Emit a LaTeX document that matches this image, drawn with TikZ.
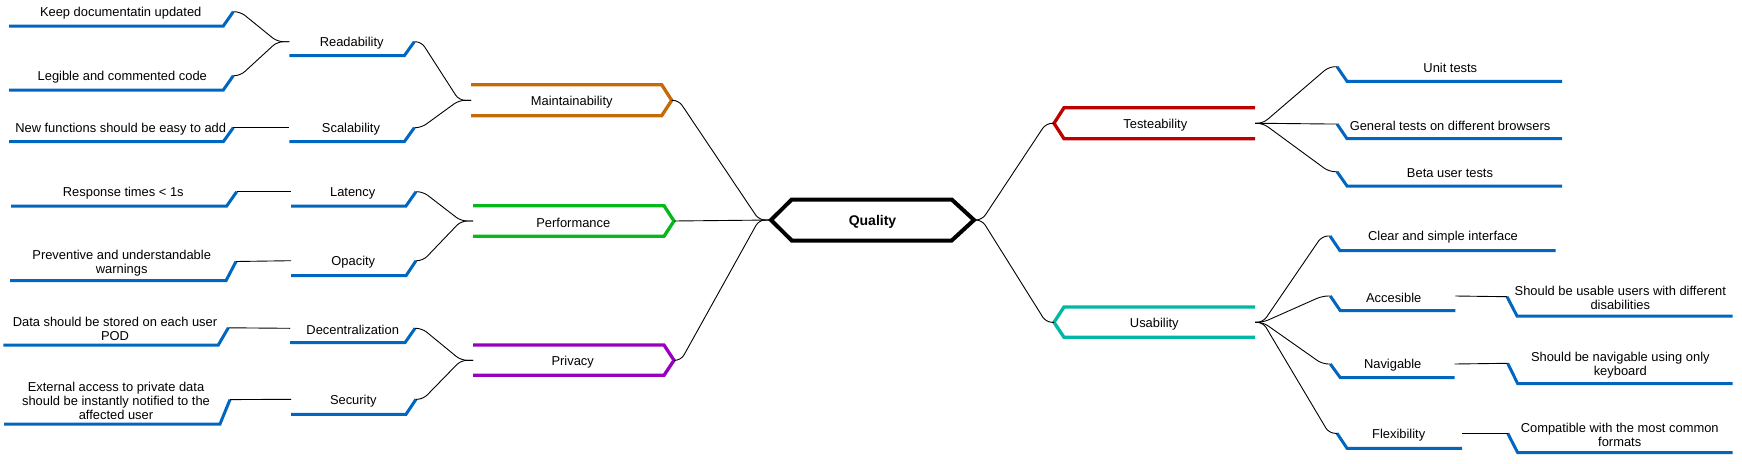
\documentclass[tikz,border=0pt]{standalone}
\usepackage{fontspec}
\setmainfont{Liberation Sans}
\usetikzlibrary{calc}
\definecolor{leafblue}{RGB}{0,102,192}
\definecolor{maintc}{RGB}{197,106,8}
\definecolor{perfc}{RGB}{6,184,28}
\definecolor{privc}{RGB}{153,0,190}
\definecolor{testc}{RGB}{191,0,0}
\definecolor{usabc}{RGB}{0,184,163}
\tikzset{
 lbl/.style={font=\fontsize{12.9}{14.1}\selectfont, inner sep=0pt, align=center, text=black, yshift=-1.5pt},
 leafline/.style={draw=leafblue, line width=3pt},
 catline/.style={line width=3.3pt},
 conn/.style={draw=black, line width=0.9pt, rounded corners=6pt},
 straightconn/.style={draw=black, line width=0.9pt},
}
% left leaf: name, text, cx, ty, x1, x2, yb
\newcommand\lleaf[7]{%
 \node[lbl] (#1) at (#3,#4) {#2};
 \coordinate (#1-l) at (#5,#4);
 \coordinate (#1-r) at ({#6+10},#4);
 \draw[leafline] (#5,#7) -- (#6,#7) -- ({#6+10},#4);
}
% right leaf: name, text, cx, ty, xs, xe, yb
\newcommand\rleaf[7]{%
 \node[lbl] (#1) at (#3,#4) {#2};
 \coordinate (#1-l) at (#5,#4);
 \coordinate (#1-r) at (#6,#4);
 \draw[leafline] (#5,#4) -- ({#5+10},#7) -- (#6,#7);
}
\newcommand\lconn[2]{\draw[conn] (#1) -- ++(7,0) -- ($(#2)+(-12,0)$) -- (#2);}
\newcommand\rconn[2]{\draw[conn] (#1) -- ++(8,0) -- ($(#2)+(-8,0)$) -- (#2);}
\begin{document}
\begin{tikzpicture}[x=1pt,y=-1pt]
\useasboundingbox (0,0) rectangle (1742,463);

% ---------- left leaves ----------
\lleaf{kdu}{Keep documentatin updated}{120.7}{11.7}{9}{223.3}{26}
\lleaf{lcc}{Legible and commented code}{122.3}{75.7}{9}{223.3}{90}
\lleaf{nfe}{New functions should be easy to add}{120.7}{127.7}{9}{223.3}{141.7}
\lleaf{rt}{Response times < 1s}{123.3}{191.7}{11}{226.7}{206}
\lleaf{pw}{Preventive and understandable\\warnings}{121.7}{261.5}{10}{226}{280.7}
\lleaf{ds}{Data should be stored on each user\\POD}{115}{327.8}{3.3}{218.3}{345}
\lleaf{ea}{External access to private data\\should be instantly notified to the\\affected user}{116}{399.6}{4}{220}{424}

% ---------- left middle ----------
\lleaf{read}{Readability}{351.7}{41.7}{289.3}{404.3}{55.7}
\lleaf{scal}{Scalability}{351}{127.7}{289.3}{404.3}{141.7}
\lleaf{lat}{Latency}{352.7}{191.7}{291}{406}{206}
\lleaf{opa}{Opacity}{353.3}{260.7}{291}{406}{275.7}
\lleaf{dec}{Decentralization}{352.7}{328.3}{290}{405}{342.7}
\lleaf{sec}{Security}{353.3}{399.3}{291}{406}{414.3}

% ---------- left categories ----------
\node[lbl] (maint) at (571.7,100.3) {Maintainability};
\draw[catline, draw=maintc] (471,84.7) -- (661.7,84.7) -- (671.7,100.3) -- (661.7,115.7) -- (471,115.7);
\coordinate (maint-l) at (471,100.3);
\coordinate (maint-r) at (671.7,100.3);

\node[lbl] (perf) at (573.3,221) {Performance};
\draw[catline, draw=perfc] (473,205.7) -- (664,205.7) -- (674,221) -- (664,236.3) -- (473,236.3);
\coordinate (perf-l) at (473,221);
\coordinate (perf-r) at (674,221);

\node[lbl] (priv) at (572.7,360.3) {Privacy};
\draw[catline, draw=privc] (473,345) -- (664,345) -- (674,360.3) -- (664,375.3) -- (473,375.3);
\coordinate (priv-l) at (473,360.3);
\coordinate (priv-r) at (674,360.3);

% ---------- center ----------
\node[font=\fontsize{14}{16}\selectfont\bfseries, inner sep=0pt, yshift=-1.5pt] (qual) at (872.5,220.5) {Quality};
\draw[line width=4pt] (771,220) -- (791.7,199.5) -- (951.7,199.5) -- (974,220) -- (951.7,240.5) -- (791.7,240.5) -- cycle;
\coordinate (qual-l) at (771,220);
\coordinate (qual-r) at (974,220);

% ---------- right categories ----------
\node[lbl] (test) at (1155.3,123.3) {Testeability};
\draw[catline, draw=testc] (1255,107.7) -- (1064,107.7) -- (1054,123.3) -- (1064,138.7) -- (1255,138.7);
\coordinate (test-l) at (1054,123.3);
\coordinate (test-r) at (1255,123.3);

\node[lbl] (usab) at (1154.3,322.3) {Usability};
\draw[catline, draw=usabc] (1255,307) -- (1064,307) -- (1054,322.3) -- (1064,337.3) -- (1255,337.3);
\coordinate (usab-l) at (1054,322.3);
\coordinate (usab-r) at (1255,322.3);

% ---------- right leaves ----------
\rleaf{unit}{Unit tests}{1450.3}{66.7}{1337}{1562}{81.3}
\rleaf{gen}{General tests on different browsers}{1450}{124}{1337}{1562}{138.7}
\rleaf{beta}{Beta user tests}{1450}{171.7}{1337}{1562}{186}
\rleaf{clear}{Clear and simple interface}{1443}{236}{1330}{1555.5}{250.7}
\rleaf{acc}{Accesible}{1393.7}{296}{1330.3}{1455.3}{310.7}
\rleaf{nav}{Navigable}{1392.7}{364}{1330.3}{1454.7}{377.7}
\rleaf{flex}{Flexibility}{1398.7}{433.3}{1337}{1462}{448.3}
\rleaf{sbu}{Should be usable users with different\\disabilities}{1620.3}{296.7}{1507}{1732.7}{316}
\rleaf{sbn}{Should be navigable using only\\keyboard}{1620.3}{363.3}{1507.7}{1732.7}{383.7}
\rleaf{comp}{Compatible with the most common\\formats}{1619.7}{433.3}{1507.7}{1732.7}{452.7}

% ---------- connectors ----------
\lconn{kdu-r}{read-l}
\lconn{lcc-r}{read-l}
\draw[straightconn] (nfe-r) -- (scal-l);
\draw[straightconn] (rt-r) -- (lat-l);
\draw[straightconn] (pw-r) -- (opa-l);
\draw[straightconn] (ds-r) -- (dec-l);
\draw[straightconn] (ea-r) -- (sec-l);

\lconn{read-r}{maint-l}
\lconn{scal-r}{maint-l}
\lconn{lat-r}{perf-l}
\lconn{opa-r}{perf-l}
\lconn{dec-r}{priv-l}
\lconn{sec-r}{priv-l}

\lconn{maint-r}{qual-l}
\draw[straightconn] (perf-r) -- (qual-l);
\lconn{priv-r}{qual-l}

\rconn{qual-r}{test-l}
\rconn{qual-r}{usab-l}

\rconn{test-r}{unit-l}
\rconn{test-r}{gen-l}
\rconn{test-r}{beta-l}

\rconn{usab-r}{clear-l}
\rconn{usab-r}{acc-l}
\rconn{usab-r}{nav-l}
\rconn{usab-r}{flex-l}

\draw[straightconn] (acc-r) -- (sbu-l);
\draw[straightconn] (nav-r) -- (sbn-l);
\draw[straightconn] (flex-r) -- (comp-l);
\end{tikzpicture}
\end{document}
